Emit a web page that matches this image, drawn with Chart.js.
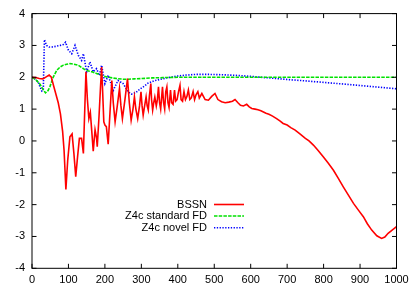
<!DOCTYPE html>
<html>
<head>
<meta charset="utf-8">
<script src="https://cdn.jsdelivr.net/npm/chart.js@4/dist/chart.umd.min.js"></script>
<style>
html,body{margin:0;padding:0;background:#fff;}
canvas{display:block;}
</style>
</head>
<body>
<canvas id="c" width="415" height="291"></canvas>
<script>
// ---- data ----
const seriesNames = ["BSSN", "Z4c standard FD", "Z4c novel FD"];

const bssnX = [0,10,20,30,40,47,53,60,66,72,78,84,88,93,98,104,110,115,120,125,130,136,141,148,152,156,160,164,168,173,177,179,184,188,191,194,197,200,204,209,214,219,223,228,234,240,244,248,255,262,267,272,277,281,285,290,295,299,302,305,309,313,316,319,322,326,328,331,334,337,341,344,347,350,353,358,361,364,367,370,373,376,380,383,387,391,394,398,402,406,409,413,417,421,425,429,433,437,442,446,450,455,459,466,475,484,493,502,510,520,530,540,550,557,565,572,580,589,596,603,612,620,628,635,642,650,660,671,680,689,700,710,722,735,750,760,772,785,799,813,827,840,854,868,882,896,909,920,932,946,959,968,977,988,1000];
const bssnY = [2.0,1.99,1.96,1.95,2.02,2.07,2.0,1.7,1.45,1.2,0.85,0.3,-0.3,-1.52,-0.6,0.13,0.22,-0.4,-1.12,-0.5,0.08,0.08,-0.39,2.17,1.3,0.7,0.9,0.3,-0.32,0.35,0.1,-0.18,0.8,1.7,2.32,1.5,0.6,0.5,0.45,-0.1,0.9,1.9,1.2,0.6,1.1,1.65,1.1,0.7,1.3,1.96,1.2,0.65,1.0,1.38,1.0,0.7,1.1,1.54,1.1,0.81,1.1,1.38,1.1,0.97,1.4,1.8,1.3,0.97,1.2,1.38,1.1,1.3,1.7,1.2,1.0,1.7,1.2,1.0,1.55,1.7,1.2,1.05,1.6,1.2,1.15,1.6,1.25,1.3,1.55,1.75,1.3,1.25,1.55,1.3,1.4,1.6,1.3,1.35,1.55,1.3,1.45,1.55,1.35,1.49,1.3,1.28,1.4,1.49,1.3,1.23,1.2,1.22,1.25,1.3,1.2,1.12,1.1,1.15,1.07,1.02,1.0,0.98,0.95,0.91,0.87,0.84,0.78,0.7,0.63,0.55,0.5,0.42,0.34,0.22,0.08,0.0,-0.13,-0.3,-0.5,-0.7,-0.92,-1.17,-1.44,-1.7,-1.96,-2.18,-2.38,-2.6,-2.8,-2.98,-3.06,-3.02,-2.9,-2.8,-2.69];

const stdX = [0,10,22,30,37,44,49,58,68,77,86,95,104,115,127,137,145,155,165,177,190,205,220,232,250,265,280,300,330,360,400,500,600,700,800,900,1000];
const stdY = [2.0,1.93,1.78,1.62,1.51,1.58,1.7,2.0,2.22,2.32,2.38,2.41,2.43,2.41,2.38,2.3,2.24,2.2,2.17,2.12,2.06,2.01,1.98,1.96,1.94,1.94,1.95,1.96,1.98,1.99,2.0,2.0,2.0,2.0,2.0,2.0,2.0];

const novX = [0,8,17,22,27,31,34,40,47,54,65,77,86,92,100,109,118,127,136,141,150,159,168,177,185,191,200,209,223,236,250,264,273,285,296,308,319,335,350,370,400,424,450,488,520,560,598,650,700,735,800,872,930,1000];
const novY = [2.0,1.95,1.85,1.7,1.57,1.6,3.18,3.0,2.95,2.95,2.97,3.0,3.03,3.1,2.85,2.74,3.0,2.69,2.53,2.74,2.17,2.48,2.17,2.27,2.06,2.38,1.8,2.06,1.59,1.9,1.8,1.54,1.47,1.52,1.63,1.72,1.82,1.89,1.93,1.98,2.04,2.07,2.09,2.09,2.08,2.06,2.03,1.98,1.93,1.9,1.84,1.77,1.71,1.64];

const xTicks = [0,100,200,300,400,500,600,700,800,900,1000];
const yTicks = [-4,-3,-2,-1,0,1,2,3,4];

const colors = ["rgb(255,0,0)", "rgb(0,225,0)", "rgb(0,0,255)"];
const dashes = [[], [3.5,1.2], [1.3,1.5]];

function pts(xs, ys){ return xs.map((x,i)=>({x:x, y:ys[i]})); }

const FONT = "'Liberation Sans', Arial, Helvetica, sans-serif";

const framePlugin = {
  id: 'frame',
  afterDraw(chart){
    const ctx = chart.ctx, a = chart.chartArea;
    const xs = chart.scales.x, ys = chart.scales.y;
    ctx.save();
    ctx.strokeStyle = '#000';
    ctx.lineWidth = 1;
    ctx.setLineDash([]);
    ctx.beginPath();
    const tl = 4.5;
    xTicks.forEach(v=>{
      const px = xs.getPixelForValue(v);
      ctx.moveTo(px, a.bottom); ctx.lineTo(px, a.bottom - tl);
      ctx.moveTo(px, a.top); ctx.lineTo(px, a.top + tl);
    });
    yTicks.forEach(v=>{
      const py = ys.getPixelForValue(v);
      ctx.moveTo(a.left, py); ctx.lineTo(a.left + tl, py);
      ctx.moveTo(a.right, py); ctx.lineTo(a.right - tl, py);
    });
    ctx.stroke();
    ctx.strokeRect(a.left, a.top, a.right - a.left, a.bottom - a.top);

    // legend (gnuplot style: right-aligned text, sample line to the right)
    ctx.font = "11px " + FONT;
    ctx.fillStyle = '#000';
    ctx.textAlign = 'right';
    ctx.textBaseline = 'middle';
    const textRight = 207, l0 = 214, l1 = 244;
    const rowY = [204.5, 216, 227.7];
    seriesNames.forEach((n,i)=>{
      ctx.fillText(n, textRight, rowY[i]);
      ctx.beginPath();
      ctx.strokeStyle = colors[i];
      ctx.lineWidth = 1.6;
      ctx.setLineDash(dashes[i]);
      ctx.moveTo(l0, rowY[i]); ctx.lineTo(l1, rowY[i]);
      ctx.stroke();
    });
    ctx.restore();
  }
};

new Chart(document.getElementById('c'), {
  type: 'scatter',
  data: {
    datasets: [
      {label: seriesNames[0], data: pts(bssnX, bssnY)},
      {label: seriesNames[1], data: pts(stdX, stdY)},
      {label: seriesNames[2], data: pts(novX, novY)}
    ].map((d,i)=>Object.assign(d, {
      showLine: true, borderColor: colors[i], backgroundColor: colors[i],
      borderWidth: 1.6, borderDash: dashes[i], pointRadius: 0, tension: 0,
      clip: 0
    }))
  },
  options: {
    responsive: false,
    animation: false,
    devicePixelRatio: 1,
    layout: {padding: {left: 0, right: 18.5, top: 13.3, bottom: 0}},
    plugins: {legend: {display: false}, tooltip: {enabled: false}},
    scales: {
      x: {
        type: 'linear', min: 0, max: 1000,
        afterBuildTicks: s => { s.ticks = xTicks.map(v=>({value:v})); },
        afterFit: s => { s.height = 22.7; },
        grid: {display: false, drawTicks: false},
        border: {display: false},
        ticks: {color: '#000', font: {family: FONT, size: 11}, padding: 5, maxRotation: 0, autoSkip: false,
                callback: v => String(v)}
      },
      y: {
        type: 'linear', min: -4, max: 4,
        afterBuildTicks: s => { s.ticks = yTicks.map(v=>({value:v})); },
        afterFit: s => { s.width = 32; },
        grid: {display: false, drawTicks: false},
        border: {display: false},
        ticks: {color: '#000', font: {family: FONT, size: 11}, padding: 7, autoSkip: false,
                callback: v => String(v)}
      }
    }
  },
  plugins: [framePlugin]
});
</script>
</body>
</html>
